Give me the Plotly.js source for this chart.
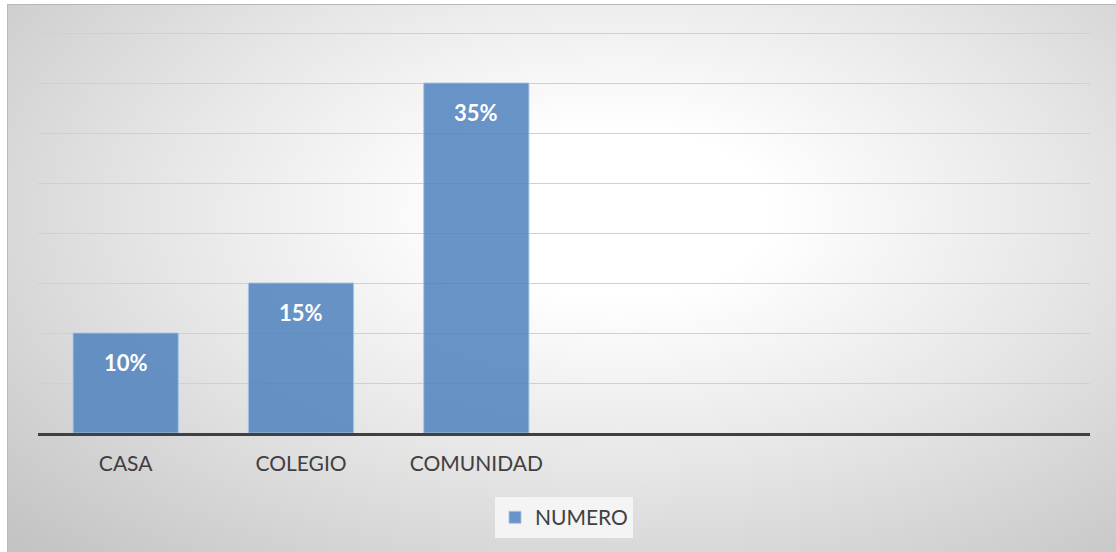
<!DOCTYPE html>
<html>
<head>
<meta charset="utf-8">
<script src="https://cdn.plot.ly/plotly-3.0.1.min.js"></script>
<style>
html,body{margin:0;padding:0;background:#fff;}
#wrap{position:absolute;left:7px;top:4px;width:1109px;height:548px;border-left:1px solid #b8b8b8;border-top:1px solid #b8b8b8;
background:radial-gradient(ellipse 75% 85% at 55% 38%, #ffffff 0%, #ffffff 18%, #e6e6e6 55%, #c4c4c4 100%);}
#chart{position:absolute;left:-8px;top:-5px;width:1116px;height:552px;}
</style>
</head>
<body>
<div id="wrap"><div id="chart"></div></div>
<script>
var categories = ["CASA", "COLEGIO", "COMUNIDAD", " ", "  ", "   "];
var values = [10, 15, 35, null, null, null];
var labels = ["10%", "15%", "35%", "", "", ""];
var seriesName = "NUMERO";

var annotations = [];
for (var i = 0; i < categories.length; i++) {
  if (values[i] == null) continue;
  annotations.push({x: categories[i], y: values[i], text: "<b>" + labels[i] + "</b>", showarrow: false,
    yshift: -29, font: {family: "Lato, 'Open Sans', sans-serif", size: 22, color: "#ffffff"}});
}

var trace = {
  type: "bar", x: categories, y: values, name: seriesName,
  marker: {color: "rgba(79,129,189,0.85)", line: {color: "rgba(170,196,228,0.9)", width: 1}},
  hoverinfo: "skip", showlegend: true
};

var layout = {
  width: 1116, height: 552,
  margin: {l: 38, r: 26, t: 30, b: 119},
  paper_bgcolor: "rgba(0,0,0,0)", plot_bgcolor: "rgba(0,0,0,0)",
  bargap: 0.4,
  font: {family: "Lato, 'Open Sans', sans-serif", color: "#404040"},
  xaxis: {type: "category", range: [-0.5, 5.5], showline: true, linecolor: "#404040", linewidth: 3,
    tickfont: {size: 21, color: "#404040"}, ticks: "", ticklabelstandoff: 10, showgrid: false, fixedrange: true},
  yaxis: {range: [0, 40.3], tickvals: [5, 10, 15, 20, 25, 30, 35, 40], showticklabels: false, gridcolor: "#d0d0d0", gridwidth: 1,
    zeroline: false, showline: false, fixedrange: true},
  showlegend: true,
  legend: {x: 0.5, xanchor: "center", y: -0.21, yanchor: "middle", orientation: "h",
    bgcolor: "#f4f4f4", font: {size: 21, color: "#404040"}, itemwidth: 30},
  annotations: annotations
};

Plotly.newPlot("chart", [trace], layout, {displayModeBar: false, staticPlot: true});
</script>
</body>
</html>
